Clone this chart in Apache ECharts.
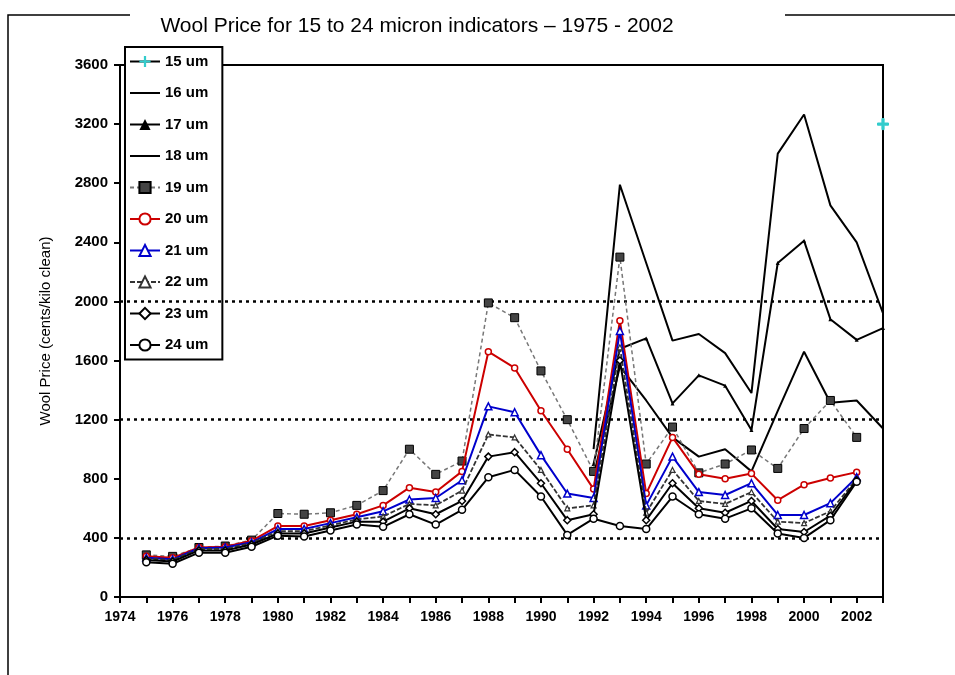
<!DOCTYPE html>
<html>
<head>
<meta charset="utf-8">
<script src="https://cdn.jsdelivr.net/npm/echarts@6/dist/echarts.min.js"></script>
<style>
html,body{margin:0;padding:0;background:#fff;}
#chart{width:955px;height:675px;}
</style>
</head>
<body>
<div id="chart"></div>
<script>
// ---- data (cents/kilo clean) ----
const years = [1975,1976,1977,1978,1979,1980,1981,1982,1983,1984,1985,1986,1987,1988,1989,1990,1991,1992,1993,1994,1995,1996,1997,1998,1999,2000,2001,2002,2003];
const seriesNames = ['15 um','16 um','17 um','18 um','19 um','20 um','21 um','22 um','23 um','24 um'];
const um15 = [null,null,null,null,null,null,null,null,null,null,null,null,null,null,null,null,null,null,null,null,null,null,null,null,null,null,null,null,3200];
const um16 = [null,null,null,null,null,null,null,null,null,null,null,null,null,null,null,null,null,1000,2790,2260,1735,1780,1650,1380,3000,3265,2650,2400,1920];
const um17 = [null,null,null,null,null,null,null,null,null,null,null,null,null,null,null,null,null,900,1680,1750,1310,1500,1430,1130,2260,2410,1880,1740,1820];
const um18 = [null,null,null,null,null,null,null,null,null,null,null,null,null,null,null,null,null,820,1560,1330,1080,950,1000,850,1260,1660,1315,1330,1140];
const um19 = [285,275,335,345,385,565,560,570,620,720,1000,830,920,1990,1890,1530,1200,850,2300,900,1150,840,900,995,870,1140,1330,1080,null];
const um20 = [275,265,335,340,380,480,480,520,560,620,740,710,850,1660,1550,1260,1000,730,1870,700,1080,830,800,835,655,760,805,845,null];
const um21 = [265,255,330,335,370,460,460,500,540,580,660,670,790,1290,1250,960,700,670,1800,620,950,710,690,770,555,555,635,810,null];
const um22 = [260,250,325,325,365,445,445,485,525,545,630,620,720,1100,1080,860,600,620,1690,570,860,650,630,710,510,500,580,800,null];
const um23 = [250,240,315,315,355,430,430,470,510,510,600,560,650,950,980,770,520,560,1600,520,770,600,570,650,460,440,550,790,null];
const um24 = [235,225,300,300,340,415,410,450,490,475,560,490,590,810,860,680,420,530,480,460,680,560,530,600,430,400,520,780,null];
const refLines = [400,1200,2000];
const titleText = 'Wool Price for 15 to 24 micron indicators \u2013 1975 - 2002';
const yAxisName = 'Wool Price (cents/kilo clean)';

const allData = [um15,um16,um17,um18,um19,um20,um21,um22,um23,um24];
function pairs(arr){
  const out = [];
  years.forEach((y,i)=>{ if(arr[i]!==null && arr[i]!==undefined) out.push([y,arr[i]]); });
  return out;
}

const plusPath = 'path://M4,0 L6,0 L6,4 L10,4 L10,6 L6,6 L6,10 L4,10 L4,6 L0,6 L0,4 L4,4 Z';
// legend icon for plain lines: thin band inside a 30x14 box (tiny corner specks fix the box)
const lineIcon = 'path://M0,0 L0.01,0 L0.01,0.01 Z M0,6 L30,6 L30,8 L0,8 Z M29.99,13.99 L30,13.99 L30,14 Z';

const styles = [
  {line:{color:'#000',width:2}, symbol:plusPath, size:11, item:{color:'#3cc',borderColor:'#3cc'}},
  {line:{color:'#000',width:2}, symbol:'none', size:0, item:{color:'#000'}},
  {line:{color:'#000',width:2}, symbol:'triangle', size:4, item:{color:'#000'}},
  {line:{color:'#000',width:2}, symbol:'none', size:0, item:{color:'#000'}},
  {line:{color:'#777',width:1.5,type:[4,3]}, symbol:'rect', size:8, item:{color:'#444',borderColor:'#000',borderWidth:1}},
  {line:{color:'#cc0000',width:2}, symbol:'circle', size:6, item:{color:'#fff',borderColor:'#cc0000',borderWidth:1.5}},
  {line:{color:'#0000cc',width:2}, symbol:'triangle', size:7, item:{color:'#fff',borderColor:'#0000cc',borderWidth:1.5}},
  {line:{color:'#333',width:1.8,type:[5,2]}, symbol:'triangle', size:5, item:{color:'#fff',borderColor:'#333',borderWidth:1.2}},
  {line:{color:'#000',width:2}, symbol:'diamond', size:7, item:{color:'#fff',borderColor:'#000',borderWidth:1.5}},
  {line:{color:'#000',width:2}, symbol:'circle', size:7, item:{color:'#fff',borderColor:'#000',borderWidth:1.5}}
];

const series = seriesNames.map((name,i)=>{
  const s = styles[i];
  const o = {
    name:name, type:'line', data:pairs(allData[i]),
    symbol:s.symbol, symbolSize:s.size, showSymbol:s.symbol!=='none',
    lineStyle:s.line, itemStyle:s.item, color:s.line.color,
    animation:false, clip:false, z:3+i
  };
  if(i===9){
    o.markLine = {
      silent:true, symbol:['none','none'], label:{show:false},
      lineStyle:{color:'#000',type:[3,4],width:2.5},
      data: refLines.map(v=>({yAxis:v}))
    };
  }
  return o;
});

const legendData = seriesNames.map((name,i)=> styles[i].symbol==='none'
  ? {name:name, icon:lineIcon, itemStyle:{color:'#000'}}
  : {name:name});

const chart = echarts.init(document.getElementById('chart'), null, {renderer:'canvas'});
chart.setOption({
  backgroundColor:'#fff',
  animation:false,
  grid:{left:120,right:72,top:65,bottom:78,show:true,borderColor:'#000',borderWidth:2,backgroundColor:'transparent'},
  xAxis:{
    type:'value', min:1974, max:2003, interval:1,
    axisLine:{lineStyle:{color:'#000',width:2}},
    axisTick:{show:true,length:6,lineStyle:{color:'#000',width:2}},
    splitLine:{show:false},
    axisLabel:{color:'#000',fontSize:14,fontWeight:'bold',fontFamily:'Liberation Sans, Arial',margin:13,
      formatter:function(v){return (v%2===0)? String(v):'';}}
  },
  yAxis:{
    type:'value', min:0, max:3600, interval:400,
    name:yAxisName, nameLocation:'middle', nameRotate:90, nameGap:67,
    nameTextStyle:{color:'#000',fontSize:15,fontFamily:'Liberation Sans, Arial'},
    axisLine:{show:true,lineStyle:{color:'#000',width:2}},
    axisTick:{show:true,length:6,lineStyle:{color:'#000',width:2}},
    splitLine:{show:false},
    axisLabel:{color:'#000',fontSize:15,fontWeight:'bold',fontFamily:'Liberation Sans, Arial',margin:12,
      formatter:function(v){return String(v);}}
  },
  legend:{
    orient:'vertical', left:125, top:47,
    data:legendData,
    backgroundColor:'#fff', borderColor:'#000', borderWidth:2,
    padding:[7,14,7,4], itemWidth:30, itemHeight:14, itemGap:16.5,
    textStyle:{color:'#000',fontSize:15,fontWeight:'bold',fontFamily:'Liberation Sans, Arial'},
    selectedMode:false
  },
  graphic:[
    {type:'polyline', shape:{points:[[130,15],[8,15],[8,675]]}, style:{stroke:'#000',lineWidth:1.5,fill:null}, silent:true},
    {type:'line', shape:{x1:785,y1:15,x2:955,y2:15}, style:{stroke:'#000',lineWidth:1.5}, silent:true},
    {type:'text', x:417, y:26, style:{text:titleText, fill:'#000', font:'21px "Liberation Sans", Arial', textAlign:'center', textVerticalAlign:'middle'}, silent:true}
  ],
  series:series
});
</script>
</body>
</html>
